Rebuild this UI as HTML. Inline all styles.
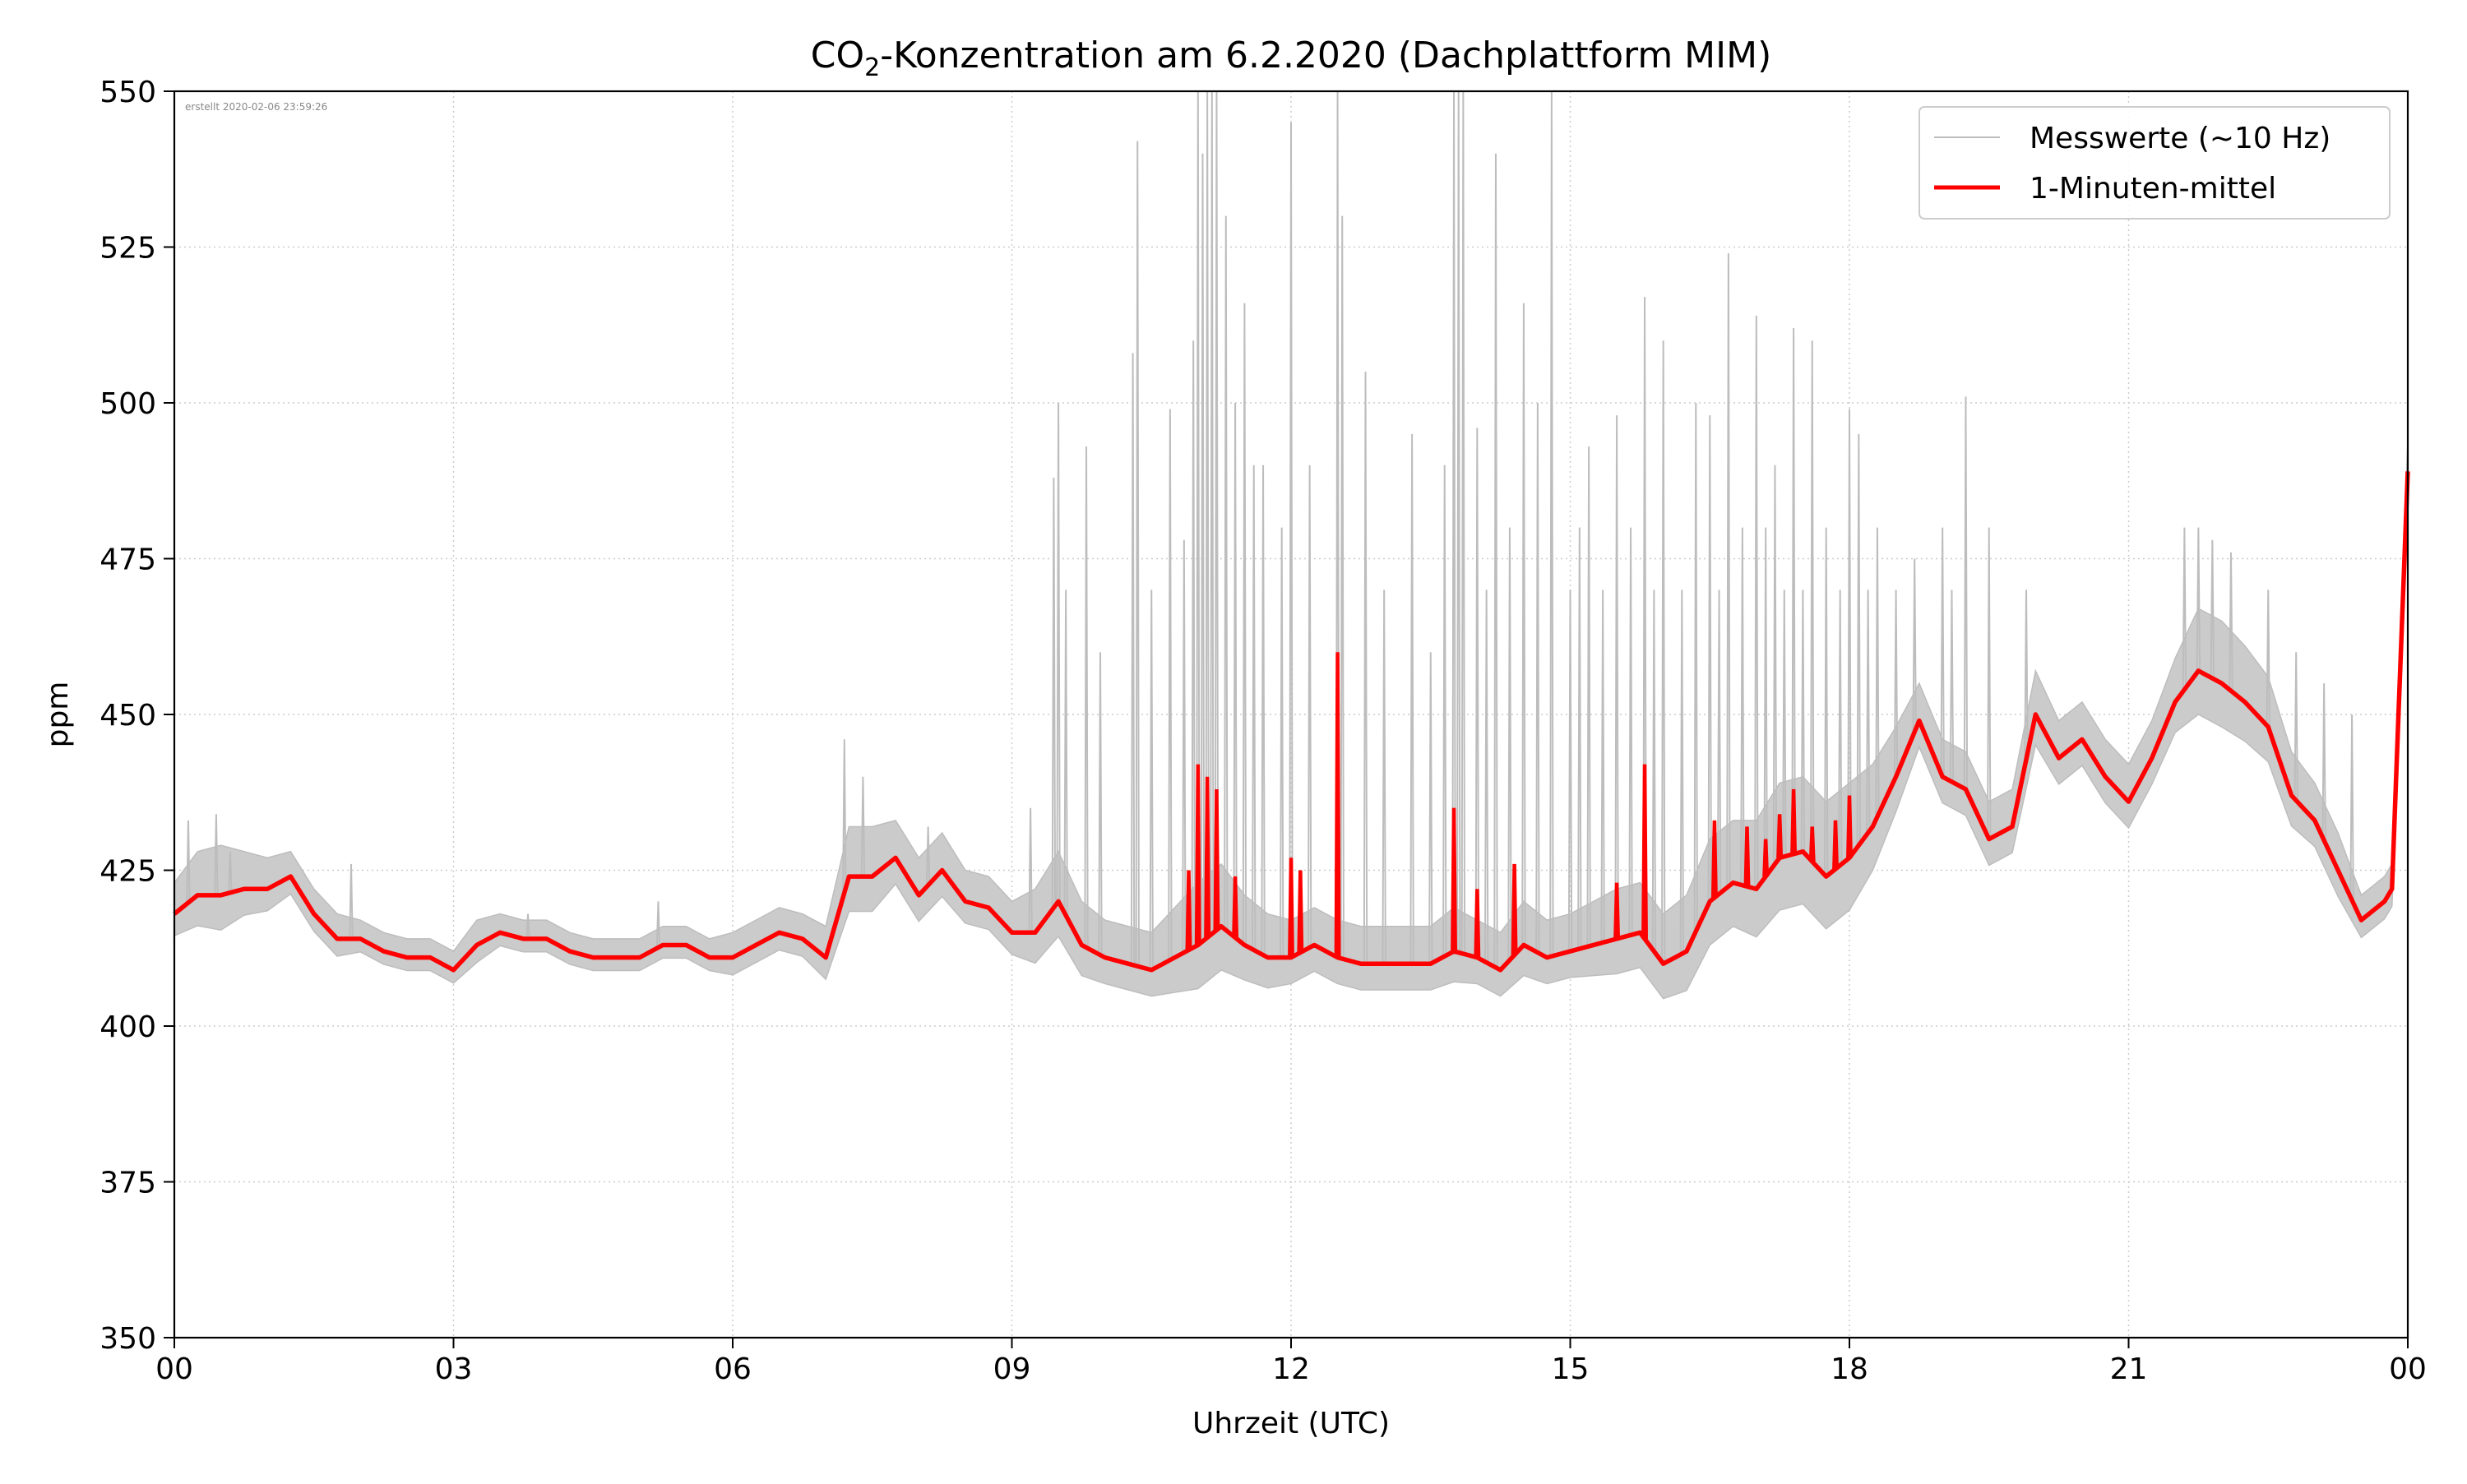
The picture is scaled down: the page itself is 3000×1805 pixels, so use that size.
<!DOCTYPE html>
<html><head><meta charset="utf-8"><style>
html,body{margin:0;padding:0;background:#fff;}
svg text{font-family:"DejaVu Sans","Liberation Sans",sans-serif;}
</style></head><body>
<svg id="chart" width="3000" height="1800" xmlns="http://www.w3.org/2000/svg">
<rect x="0" y="0" width="3000" height="1800" fill="#fff"/>
<g id="grid"></g>
<g id="gray"></g>
<g id="red"></g>
<rect x="212" y="111" width="2716" height="1516" fill="none" stroke="#000" stroke-width="2.2"/>
<g id="axes"></g>
<text x="1570" y="82" font-size="44" text-anchor="middle">CO<tspan font-size="30" dy="10">2</tspan><tspan dy="-10">-Konzentration am 6.2.2020 (Dachplattform MIM)</tspan></text>
<text x="225" y="134" font-size="12" fill="#888">erstellt 2020-02-06 23:59:26</text>
<text x="1570" y="1743" font-size="36" text-anchor="middle">Uhrzeit (UTC)</text>
<text transform="translate(82,869) rotate(-90)" font-size="36" text-anchor="middle">ppm</text>
<g>
<rect x="2334" y="130" width="572" height="136" rx="6" fill="#fff" fill-opacity="0.85" stroke="#ccc" stroke-width="2"/>
<line x1="2352" y1="167" x2="2432" y2="167" stroke="#bdbdbd" stroke-width="2"/>
<text x="2468" y="180" font-size="36">Messwerte (~10 Hz)</text>
<line x1="2352" y1="228" x2="2432" y2="228" stroke="#ff0000" stroke-width="5"/>
<text x="2468" y="241" font-size="36">1-Minuten-mittel</text>
</g>
</svg>
<script>
const times=[0,0.25,0.5,0.75,1,1.25,1.5,1.75,2,2.25,2.5,2.75,3,3.25,3.5,3.75,4,4.25,4.5,4.75,5,5.25,5.5,5.75,6,6.25,6.5,6.75,7,7.25,7.5,7.75,8,8.25,8.5,8.75,9,9.25,9.5,9.75,10,10.25,10.5,10.75,11,11.25,11.5,11.75,12,12.25,12.5,12.75,13,13.25,13.5,13.75,14,14.25,14.5,14.75,15,15.25,15.5,15.75,16,16.25,16.5,16.75,17,17.25,17.5,17.75,18,18.25,18.5,18.75,19,19.25,19.5,19.75,20,20.25,20.5,20.75,21,21.25,21.5,21.75,22,22.25,22.5,22.75,23,23.25,23.5,23.75,23.83,23.9,24];
const meanVals=[418,421,421,422,422,424,418,414,414,412,411,411,409,413,415,414,414,412,411,411,411,413,413,411,411,413,415,414,411,424,424,427,421,425,420,419,415,415,420,413,411,410,409,411,413,416,413,411,411,413,411,410,410,410,410,412,411,409,413,411,412,413,414,415,410,412,420,423,422,427,428,424,427,432,440,449,440,438,430,432,450,443,446,440,436,443,452,457,455,452,448,437,433,425,417,420,422,450,489];
const spread=[5,7,8,6,5,4,4,4,3,3,3,3,3,4,3,3,3,3,3,3,3,3,3,3,4,4,4,4,5,8,8,6,6,6,5,5,5,7,8,7,6,6,6,8,10,10,8,7,6,6,6,6,6,6,6,7,6,6,7,6,6,7,8,8,8,9,10,10,11,12,12,12,12,10,8,6,6,6,6,6,7,6,6,6,6,6,7,10,10,9,8,7,6,6,4,4,4,5,5];
const spikeT=[0.15,0.45,0.6,1.9,3.8,5.2,7.2,7.4,8.1,9.2,9.45,9.5,9.58,9.8,9.95,10.3,10.35,10.5,10.7,10.85,10.95,11.0,11.05,11.1,11.15,11.2,11.3,11.4,11.5,11.6,11.7,11.9,12.0,12.2,12.5,12.55,12.8,13.0,13.3,13.5,13.65,13.75,13.8,13.85,14.0,14.1,14.2,14.35,14.5,14.65,14.8,15.0,15.1,15.2,15.35,15.5,15.65,15.8,15.9,16.0,16.2,16.35,16.5,16.6,16.7,16.85,17.0,17.1,17.2,17.3,17.4,17.5,17.6,17.75,17.9,18.0,18.1,18.2,18.3,18.5,18.7,19.0,19.1,19.25,19.5,19.9,21.6,21.75,21.9,22.1,22.5,22.8,23.1,23.4];
const spikeV=[433,434,428,426,418,420,446,440,432,435,488,500,470,493,460,508,542,470,499,478,510,550,540,550,550,550,530,500,516,490,490,480,545,490,550,530,505,470,495,460,490,550,550,550,496,470,540,480,516,500,550,470,480,493,470,498,480,517,470,510,470,500,498,470,524,480,514,480,490,470,512,470,510,480,470,499,495,470,480,470,475,480,470,501,480,470,480,480,478,476,470,460,455,450];
const redSpikeT=[10.9,11.0,11.1,11.2,11.4,12.0,12.1,12.5,13.75,14.0,14.4,15.5,15.8,16.55,16.9,17.1,17.25,17.4,17.6,17.85,18.0];
const redSpikeV=[425,442,440,438,424,427,425,460,435,422,426,423,442,433,432,430,434,438,432,433,437];
const xTicks=[0,3,6,9,12,15,18,21,24];
const xTickLabels=["00","03","06","09","12","15","18","21","00"];
const yTicks=[350,375,400,425,450,475,500,525,550];

const L=212,R=2928,T=111,B=1627;
const X=t=>L+(t/24)*(R-L);
const Y=v=>B-(v-350)/200*(B-T);
const ns="http://www.w3.org/2000/svg";
function mk(tag,attrs,parent){const e=document.createElementNS(ns,tag);for(const k in attrs)e.setAttribute(k,attrs[k]);parent.appendChild(e);return e;}
const grid=document.getElementById('grid'),axes=document.getElementById('axes');
xTicks.forEach((t,i)=>{
 const g=mk('line',{x1:X(t),x2:X(t),y1:T,y2:B,stroke:'#ccc','stroke-width':1.5,'stroke-dasharray':'2,4'},grid);
 
 
 const tk=mk('line',{x1:X(t),x2:X(t),y1:B,y2:B+13,stroke:'#000','stroke-width':2},axes);
 
 
 const tx=mk('text',{x:X(t),y:B+50,'font-size':36,'text-anchor':'middle'},axes);
 tx.textContent=xTickLabels[i];
 
 
});
yTicks.forEach(v=>{
 const g=mk('line',{x1:L,x2:R,y1:Y(v),y2:Y(v),stroke:'#ccc','stroke-width':1.5,'stroke-dasharray':'2,4'},grid);
 
 
 const tk=mk('line',{x1:L-13,x2:L,y1:Y(v),y2:Y(v),stroke:'#000','stroke-width':2},axes);
 
 
 const tx=mk('text',{x:L-22,y:Y(v)+13,'font-size':36,'text-anchor':'end'},axes);
 tx.textContent=v;
 
 
});
function meanAt(t){for(let i=1;i<times.length;i++){if(t<=times[i]){const f=(t-times[i-1])/(times[i]-times[i-1]);return meanVals[i-1]+f*(meanVals[i]-meanVals[i-1]);}}return meanVals[meanVals.length-1];}
const gray=document.getElementById('gray');
let up=times.map((t,i)=>X(t)+','+Y(meanVals[i]+spread[i])).join(' ');
let lo=times.map((t,i)=>X(t)+','+Y(meanVals[i]-spread[i]*0.7)).reverse().join(' ');
const band=mk('polygon',{points:up+' '+lo,fill:'#cbcbcb',stroke:'#bdbdbd','stroke-width':1.5},gray);


spikeT.forEach((t,i)=>{
 const b=meanAt(t);
 const p=mk('polyline',{points:`${X(t-0.015)},${Y(b)} ${X(t)},${Y(Math.min(spikeV[i],550))} ${X(t+0.015)},${Y(b)}`,fill:'none',stroke:'#bdbdbd','stroke-width':2},gray);
 
 
});
const red=document.getElementById('red');
const rl=mk('polyline',{points:times.map((t,i)=>X(t)+','+Y(meanVals[i])).join(' '),fill:'none',stroke:'#ff0000','stroke-width':5.5,'stroke-linejoin':'round'},red);


redSpikeT.forEach((t,i)=>{
 const b=meanAt(t);
 const p=mk('polyline',{points:`${X(t-0.015)},${Y(b)} ${X(t)},${Y(redSpikeV[i])} ${X(t+0.015)},${Y(b)}`,fill:'none',stroke:'#ff0000','stroke-width':4.5},red);
 
 
});
</script>
</body></html>
